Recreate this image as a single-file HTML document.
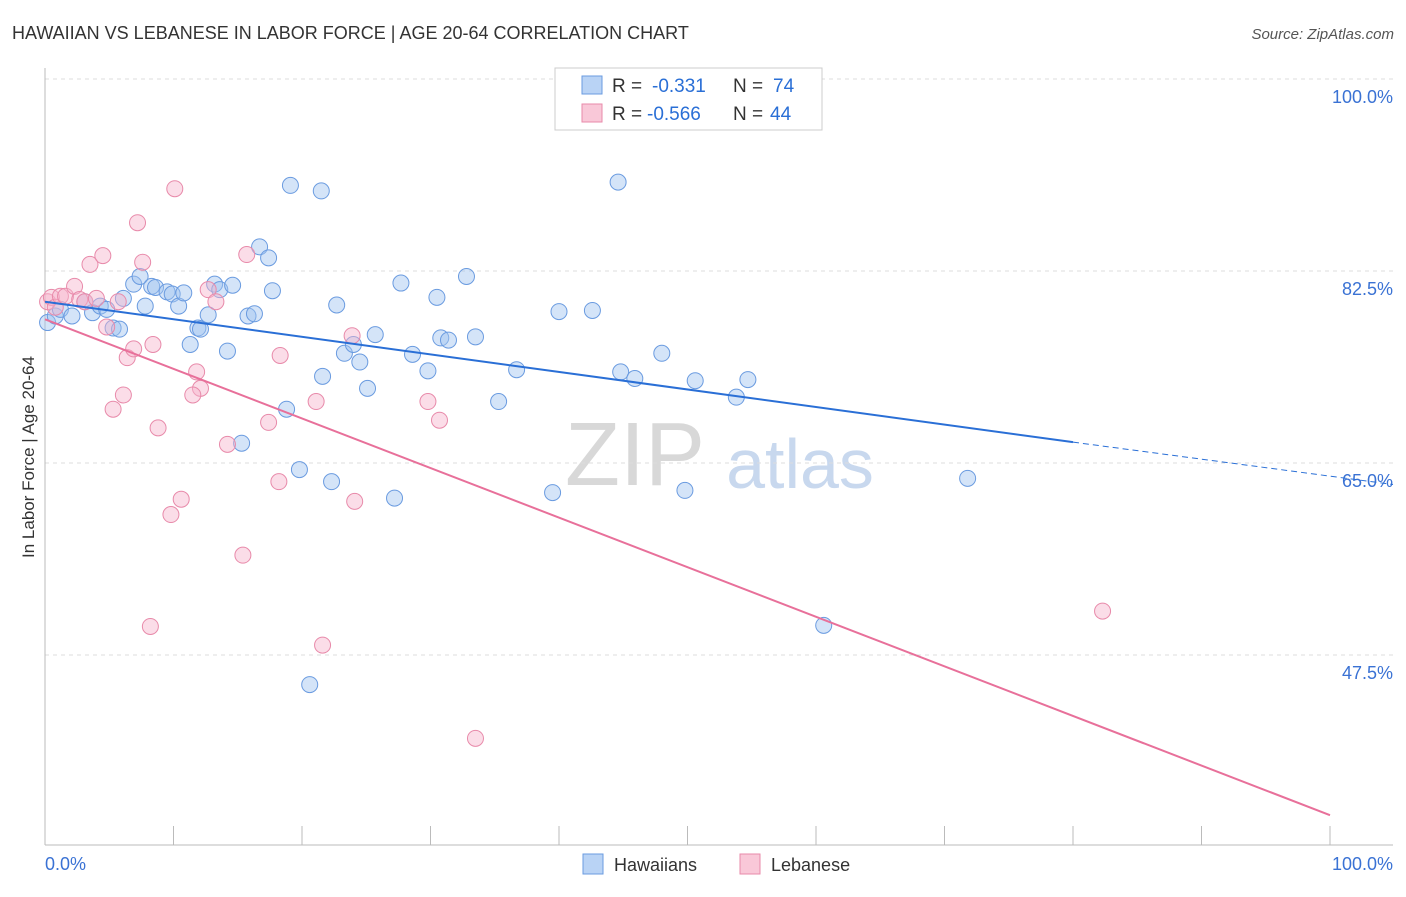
<!DOCTYPE html>
<html><head><meta charset="utf-8"><style>
body{margin:0;background:#fff;font-family:"Liberation Sans",sans-serif;}
svg text{font-family:"Liberation Sans",sans-serif;}
</style></head><body>
<svg id="chart" width="1406" height="892">
<text x="12" y="39" font-size="18" fill="#333">HAWAIIAN VS LEBANESE IN LABOR FORCE | AGE 20-64 CORRELATION CHART</text>
<text x="1394" y="39" font-size="15" fill="#555" font-style="italic" text-anchor="end">Source: ZipAtlas.com</text>
<text x="34" y="457" font-size="17" fill="#333" text-anchor="middle" transform="rotate(-90 34 457)">In Labor Force | Age 20-64</text>
<text x="635" y="485" font-size="90" fill="#d8d8d8" font-family="Liberation Serif" text-anchor="middle">ZIP</text>
<text x="800" y="488" font-size="70" fill="#c8d8ee" text-anchor="middle">atlas</text>
<g id="grid"></g>
<g id="axes"></g>
<g id="pts"></g>
<g id="lines"></g>
<g>
<rect x="555" y="68" width="267" height="62" fill="#fff" stroke="#ccc"/>
<rect x="582" y="76" width="20" height="18" fill="#b9d3f5" stroke="#6a9be0"/>
<text x="612" y="92" font-size="19" fill="#333">R =</text>
<text x="652" y="92" font-size="19" fill="#2a6fd6">-0.331</text>
<text x="733" y="92" font-size="19" fill="#333">N =</text>
<text x="773" y="92" font-size="19" fill="#2a6fd6">74</text>
<rect x="582" y="104" width="20" height="18" fill="#f9c8d8" stroke="#e88aaa"/>
<text x="612" y="120" font-size="19" fill="#333">R =</text>
<text x="647" y="120" font-size="19" fill="#2a6fd6">-0.566</text>
<text x="733" y="120" font-size="19" fill="#333">N =</text>
<text x="770" y="120" font-size="19" fill="#2a6fd6">44</text>
</g>
<g>
<rect x="583" y="854" width="20" height="20" fill="#b9d3f5" stroke="#6a9be0"/>
<text x="614" y="871" font-size="18" fill="#333">Hawaiians</text>
<rect x="740" y="854" width="20" height="20" fill="#f9c8d8" stroke="#e88aaa"/>
<text x="771" y="871" font-size="18" fill="#333">Lebanese</text>
</g>
</svg>
<script>
const yTicks=[100,82.5,65,47.5];
const yTickLabels=["100.0%","82.5%","65.0%","47.5%"];
const xTickLabels=["0.0%","100.0%"];
const hawX=[0.2,0.8,1.2,2.1,3.1,3.7,4.3,4.8,5.3,5.8,6.1,6.9,7.4,7.8,8.3,8.6,9.5,9.9,10.4,10.8,11.3,11.9,12.1,12.7,13.2,13.6,14.2,14.6,15.3,15.8,16.3,16.7,17.4,17.7,18.8,19.1,19.8,20.6,21.5,21.6,22.3,22.7,23.3,24.0,24.5,25.1,25.7,27.2,27.7,28.6,29.8,30.5,30.8,31.4,32.8,33.5,35.3,36.7,39.5,40.0,42.6,44.6,44.8,45.9,48.0,49.8,50.6,53.8,54.7,60.6,71.8];
const hawY=[77.8,78.4,79.0,78.4,79.7,78.7,79.3,79.0,77.3,77.2,80.0,81.3,82.0,79.3,81.1,81.0,80.6,80.4,79.3,80.5,75.8,77.3,77.2,78.5,81.3,80.8,75.2,81.2,66.8,78.4,78.6,84.7,83.7,80.7,69.9,90.3,64.4,44.8,89.8,72.9,63.3,79.4,75.0,75.8,74.2,71.8,76.7,61.8,81.4,74.9,73.4,80.1,76.4,76.2,82.0,76.5,70.6,73.5,62.3,78.8,78.9,90.6,73.3,72.7,75.0,62.5,72.5,71.0,72.6,50.2,63.6];
const lebX=[0.2,0.5,0.8,1.2,1.6,2.3,2.7,3.1,3.5,4.0,4.5,4.8,5.3,5.7,6.1,6.4,6.9,7.2,7.6,8.2,8.4,8.8,9.8,10.1,10.6,11.8,12.1,11.5,12.7,13.3,14.2,15.4,15.7,17.4,18.2,18.3,21.1,21.6,23.9,24.1,29.8,30.7,33.5,82.3];
const lebY=[79.7,80.1,79.2,80.2,80.2,81.1,79.9,79.7,83.1,80.0,83.9,77.4,69.9,79.7,71.2,74.6,75.4,86.9,83.3,50.1,75.8,68.2,60.3,90.0,61.7,73.3,71.8,71.2,80.8,79.7,66.7,56.6,84.0,68.7,63.3,74.8,70.6,48.4,76.6,61.5,70.6,68.9,39.9,51.5];
const hawLine=[0,79.7,80,66.9,100,63.8];
const lebLine=[0,78.1,100,32.9];
const X=v=>45+v*12.85, Y=v=>79+(100-v)*10.971;
const NS="http://www.w3.org/2000/svg";
function mk(t,a,p){const e=document.createElementNS(NS,t);for(const k in a)e.setAttribute(k,a[k]);p.appendChild(e);return e;}
const grid=document.getElementById('grid'),axes=document.getElementById('axes'),pts=document.getElementById('pts'),lines=document.getElementById('lines');
yTicks.forEach((v,i)=>{
 const l=mk('line',{x1:45,x2:1393,y1:Y(v),y2:Y(v),stroke:'#ddd','stroke-dasharray':'4,4'},grid);
 
 
 const t=mk('text',{x:1393,y:Y(v)+24,'font-size':18,fill:'#3a72d4','text-anchor':'end'},axes);
 t.textContent=yTickLabels[i];
 
 
});
mk('line',{x1:45,x2:45,y1:68,y2:845,stroke:'#bbb'},axes);
mk('line',{x1:45,x2:1393,y1:845,y2:845,stroke:'#bbb'},axes);
for(let i=0;i<=10;i++){mk('line',{x1:X(i*10),x2:X(i*10),y1:826,y2:845,stroke:'#bbb'},axes);}
[[0,'start',45],[1,'end',1393]].forEach(([i,a,x])=>{const t=mk('text',{x:x,y:870,'font-size':18,fill:'#3a72d4','text-anchor':a},axes);t.textContent=xTickLabels[i];
 
 });
hawX.forEach((v,i)=>{const c=mk('circle',{cx:X(v),cy:Y(hawY[i]),r:8,fill:'rgba(160,196,240,0.45)',stroke:'#6a9be0','stroke-width':1},pts);
 
 });
lebX.forEach((v,i)=>{const c=mk('circle',{cx:X(v),cy:Y(lebY[i]),r:8,fill:'rgba(246,180,204,0.45)',stroke:'#e88aaa','stroke-width':1},pts);
 
 });
let l1=mk('line',{x1:X(hawLine[0]),y1:Y(hawLine[1]),x2:X(hawLine[2]),y2:Y(hawLine[3]),stroke:'#2a6fd6','stroke-width':2},lines);


let l2=mk('line',{x1:X(hawLine[2]),y1:Y(hawLine[3]),x2:1393,y2:Y(hawLine[3]+(hawLine[5]-hawLine[3])*((1393-X(hawLine[2]))/(X(hawLine[4])-X(hawLine[2])))),stroke:'#2a6fd6','stroke-width':1,'stroke-dasharray':'6,4'},lines);


let l3=mk('line',{x1:X(lebLine[0]),y1:Y(lebLine[1]),x2:X(lebLine[2]),y2:Y(lebLine[3]),stroke:'#e8709a','stroke-width':2},lines);


</script>
</body></html>
